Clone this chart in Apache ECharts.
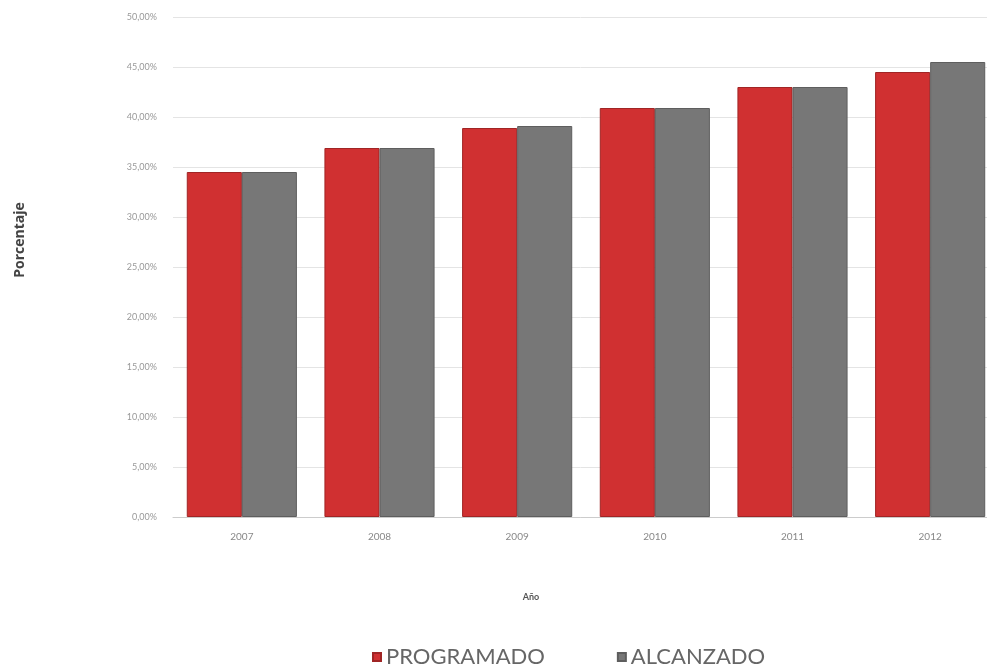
<!DOCTYPE html>
<html><head><meta charset="utf-8">
<script src="https://cdn.jsdelivr.net/npm/echarts@6/dist/echarts.min.js"></script>
<style>html,body{margin:0;padding:0;background:#fff}#c{width:987px;height:671px}</style>
</head><body><div id="c"></div>
<script>
const categories = ['2007','2008','2009','2010','2011','2012'];
const programado = [34.5, 36.9, 38.9, 40.9, 43.0, 44.5];
const alcanzado = [34.5, 36.9, 39.1, 40.9, 43.0, 45.5];
const seriesNames = ['PROGRAMADO','ALCANZADO'];

const chart = echarts.init(document.getElementById('c'));
chart.setOption({
  animation: false,
  color: ['#d03031', '#777777'],
  grid: {left: 173, width: 826, top: 17, bottom: 154, outerBoundsMode: 'none', containLabel: false},
  legend: {
    bottom: -2, left: 367, icon: 'rect', itemWidth: 8, itemHeight: 8, itemGap: 72, itemTextGap: 3,
    textStyle: {fontFamily: 'Lato', fontSize: 22, color: '#666'},
    data: seriesNames
  },
  xAxis: {
    type: 'category', data: categories,
    name: 'Año', nameLocation: 'middle', nameGap: 76,
    nameTextStyle: {fontFamily: 'Lato', fontSize: 9, fontWeight: 'bold', color: '#555', padding: [0, 110, 0, 0]},
    axisLine: {lineStyle: {color: '#ccc'}},
    axisTick: {show: false},
    axisLabel: {fontFamily: 'Lato', fontSize: 10, color: '#888', margin: 15}
  },
  yAxis: {
    type: 'value', min: 0, max: 50, interval: 5,
    name: 'Porcentaje', nameLocation: 'middle', nameGap: 146,
    nameTextStyle: {fontFamily: 'Open Sans', fontSize: 14, fontWeight: 'bold', color: '#444', padding: [0, 0, 0, 54]},
    axisLabel: {fontFamily: 'Lato', fontSize: 9, color: '#999', margin: 16,
      formatter: v => v.toFixed(2).replace('.', ',') + '%'},
    splitLine: {lineStyle: {color: '#e4e4e4'}}
  },
  series: [
    {name: seriesNames[0], type: 'bar', data: programado, barGap: '0%', barCategoryGap: '20%',
     itemStyle: {borderColor: '#a02525', borderWidth: 1}},
    {name: seriesNames[1], type: 'bar', data: alcanzado,
     itemStyle: {borderColor: '#5e5e5e', borderWidth: 1}}
  ]
});
</script></body></html>
